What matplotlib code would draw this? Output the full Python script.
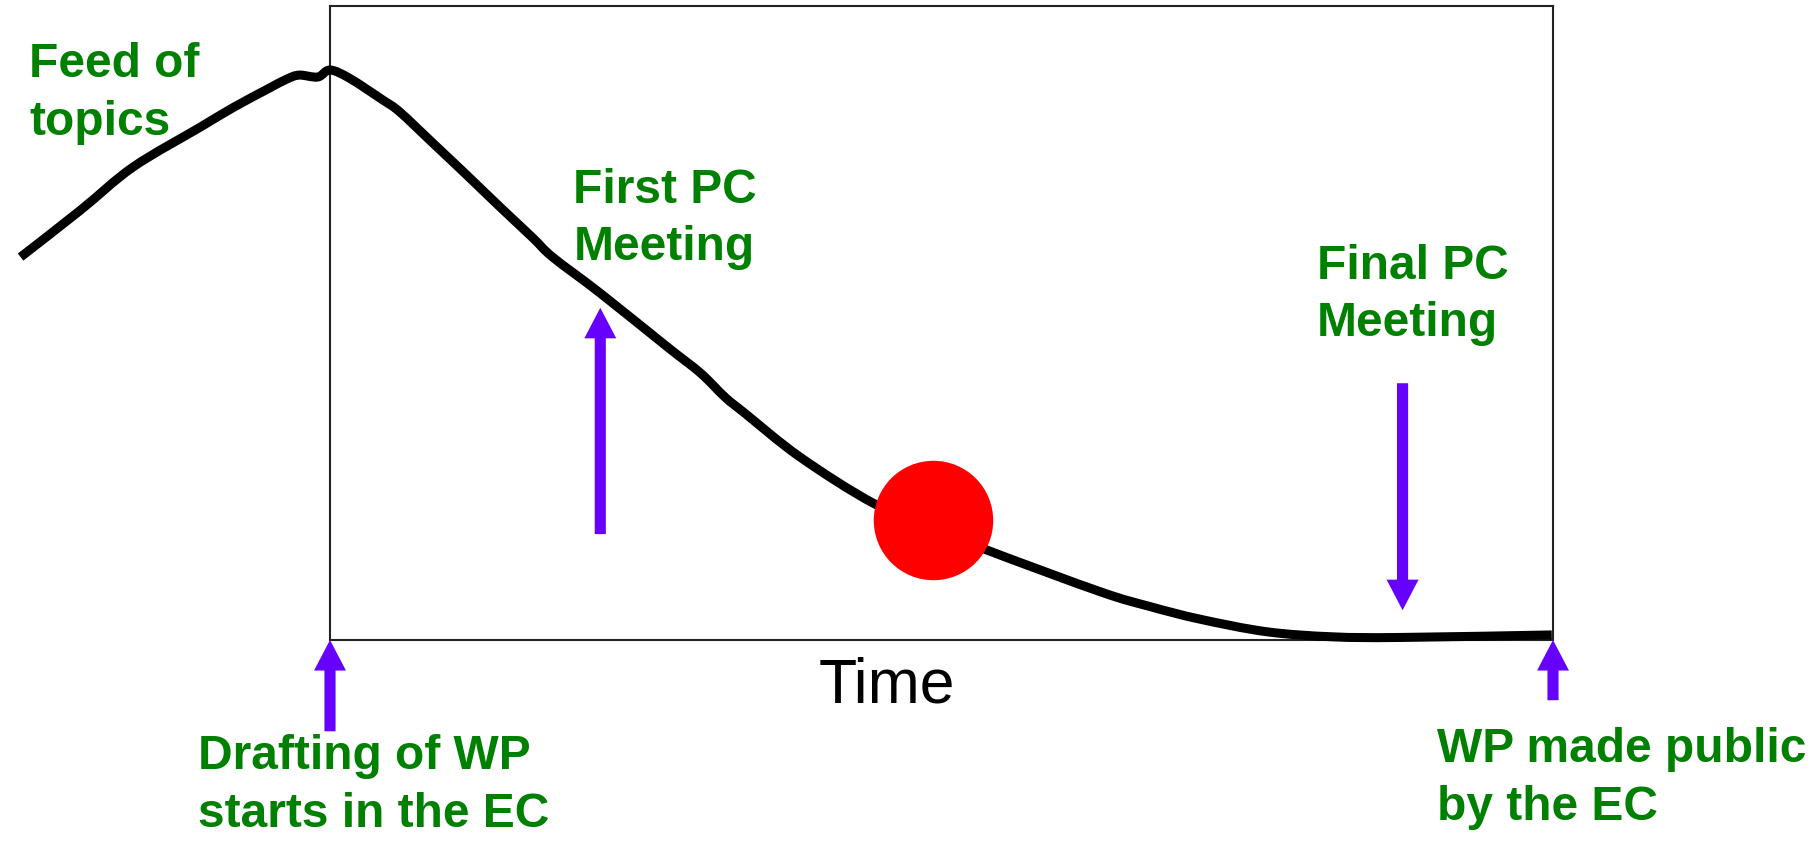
import numpy as np
import matplotlib
matplotlib.use("Agg")
import matplotlib.pyplot as plt
from matplotlib.patches import FancyArrowPatch, ArrowStyle, PathPatch
from matplotlib.path import Path

plt.rcParams['font.family'] = ['Liberation Sans', 'DejaVu Sans']

# curve: time (box = 0..100) and level (box = 0..100)
time = [-25.3, -20.4, -16.1, -10.6, -7.9, -5.2, -3.5, -2.5, -1.0, 0.0, 1.6, 4.3,
        5.7, 8.4, 11.2, 13.9, 16.6, 18.2, 22.1, 27.6, 30.3, 32.3, 33.9, 38.4,
        44.4, 49.3, 53.7, 63.0, 67.0, 71.1, 76.6, 82.0, 87.5, 99.9]
level = [60.4, 67.8, 74.6, 80.9, 84.0, 86.8, 88.5, 89.1, 88.8, 89.9, 88.6, 85.2,
         83.3, 78.4, 73.3, 68.3, 63.4, 60.4, 54.7, 46.2, 42.1, 38.3, 35.8, 28.9,
         21.6, 17.7, 14.2, 7.6, 5.3, 3.3, 1.3, 0.5, 0.4, 0.8]

# current position marker
now_time = 49.3
now_level = 18.9

# events: time, arrow start level, arrow end level
event_time = [0.0, 22.1, 87.7, 100.0]
event_from = [-14.4, 16.7, 40.5, -9.5]
event_to = [0.0, 52.4, 4.7, 0.0]

labels = ["Feed of\ntopics", "First PC\nMeeting", "Final PC\nMeeting",
          "Drafting of WP\nstarts in the EC", "WP made public\nby the EC"]
# left edge and baseline of the last line
label_pos = [(-24.6, 79.7), (19.9, 59.9), (80.7, 47.9), (-10.8, -29.5), (90.5, -28.4)]

green = '#008000'
purple = '#6600ff'


def smooth_path(x, y):
    # bezier segments through the read points (catmull-rom tangents)
    p = np.column_stack([x, y])
    verts = [p[0]]
    codes = [Path.MOVETO]
    for i in range(len(p) - 1):
        p0 = p[i - 1] if i > 0 else p[i]
        p3 = p[i + 2] if i + 2 < len(p) else p[i + 1]
        c1 = p[i] + (p[i + 1] - p0) / 6
        c2 = p[i + 1] - (p3 - p[i]) / 6
        verts += [c1, c2, p[i + 1]]
        codes += [Path.CURVE4] * 3
    return Path(verts, codes)


fig = plt.figure(figsize=(18.2, 8.43), dpi=100)
ax = fig.add_axes([330 / 1820, 203 / 843, 1223 / 1820, 634 / 843])
ax.set_xlim(0, 100)
ax.set_ylim(0, 100)
ax.set_xticks([])
ax.set_yticks([])
for s in ax.spines.values():
    s.set_linewidth(1.5)
    s.set_color('#222222')

curve = PathPatch(smooth_path(time, level), facecolor='none', edgecolor='black',
                  lw=6.5, capstyle='butt', joinstyle='round', clip_on=False, zorder=3)
ax.add_patch(curve)
ax.plot([now_time], [now_level], 'o', color='#ff0000', ms=86, mec='none',
        clip_on=False, zorder=4)

style = ArrowStyle.Simple(head_length=22, head_width=23, tail_width=8)
for t, a, b in zip(event_time, event_from, event_to):
    arr = FancyArrowPatch((t, a), (t, b), arrowstyle=style, mutation_scale=1,
                          color=purple, lw=0, shrinkA=0, shrinkB=0,
                          clip_on=False, zorder=5)
    ax.add_patch(arr)

for txt, (x, y) in zip(labels, label_pos):
    ax.text(x, y, txt, color=green, fontsize=34.5, fontweight='bold',
            ha='left', va='baseline', linespacing=1.36, clip_on=False)

ax.text(45.5, -9.9, "Time", fontsize=45, ha='center', va='baseline',
        color='black', clip_on=False)

fig.savefig("out.png", dpi=100)
